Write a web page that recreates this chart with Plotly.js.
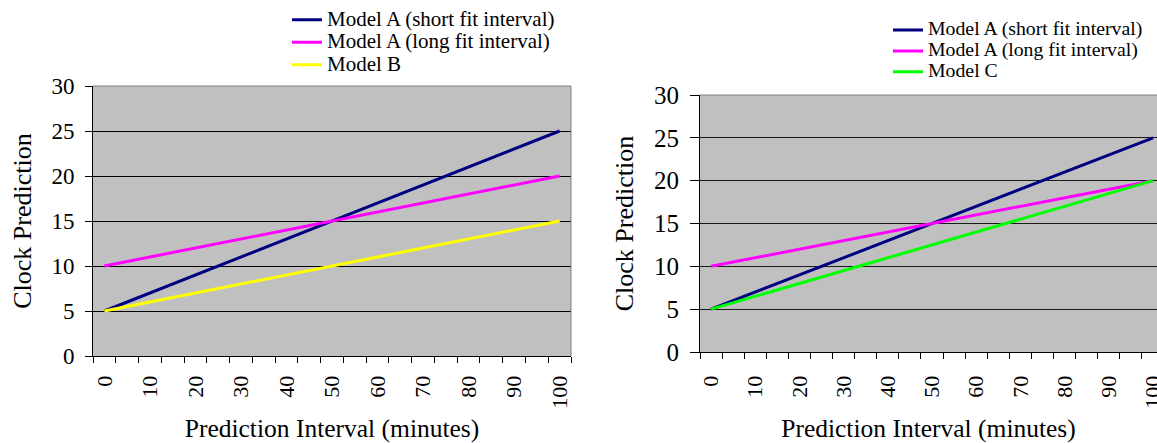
<!DOCTYPE html>
<html>
<head>
<meta charset="utf-8">
<script src="https://cdn.plot.ly/plotly-3.0.1.min.js"></script>
<style>
  html, body { margin: 0; padding: 0; overflow: hidden; background: #fff; }
  #chart { width: 1157px; height: 443px; }
</style>
</head>
<body>
<div id="chart"></div>
<script>
// Prediction interval categories (minutes)
const intervals = [0, 5, 10, 15, 20, 25, 30, 35, 40, 45, 50, 55, 60, 65, 70, 75, 80, 85, 90, 95, 100];
const tickLabels = ["0", "10", "20", "30", "40", "50", "60", "70", "80", "90", "100"];
const tickPositions = [0, 10, 20, 30, 40, 50, 60, 70, 80, 90, 100];

// Clock prediction values
const modelAShort = [5, 6, 7, 8, 9, 10, 11, 12, 13, 14, 15, 16, 17, 18, 19, 20, 21, 22, 23, 24, 25];
const modelALong = [10, 10.5, 11, 11.5, 12, 12.5, 13, 13.5, 14, 14.5, 15, 15.5, 16, 16.5, 17, 17.5, 18, 18.5, 19, 19.5, 20];
const modelB = [5, 5.5, 6, 6.5, 7, 7.5, 8, 8.5, 9, 9.5, 10, 10.5, 11, 11.5, 12, 12.5, 13, 13.5, 14, 14.5, 15];
const modelC = [5, 5.75, 6.5, 7.25, 8, 8.75, 9.5, 10.25, 11, 11.75, 12.5, 13.25, 14, 14.75, 15.5, 16.25, 17, 17.75, 18.5, 19.25, 20];

const names = {
  aShort: "Model A (short fit interval)",
  aLong: "Model A (long fit interval)",
  b: "Model B",
  c: "Model C"
};
const colors = { aShort: "#000080", aLong: "#FF00FF", b: "#FFFF00", c: "#00FF00" };

const W = 1157, H = 443;
const FONT = "'Liberation Serif', 'Times New Roman', serif";

// legend label rendered larger than the legend row pitch (tight Excel-style rows)
function legendName(name, px) {
  return "<span style='font-size:" + px + "px'>" + name + "</span>";
}

function line(y, name, color, xa, ya, lg, px) {
  return {
    type: "scatter", mode: "lines", x: intervals, y: y, name: legendName(name, px),
    xaxis: xa, yaxis: ya, legend: lg,
    line: { color: color, width: 3 }, hovertemplate: name + "<br>%{x}: %{y}<extra></extra>"
  };
}

const traces = [
  line(modelAShort, names.aShort, colors.aShort, "x", "y", "legend", 21),
  line(modelALong, names.aLong, colors.aLong, "x", "y", "legend", 21),
  line(modelB, names.b, colors.b, "x", "y", "legend", 21),
  line(modelAShort, names.aShort, colors.aShort, "x2", "y2", "legend2", 19.8),
  line(modelALong, names.aLong, colors.aLong, "x2", "y2", "legend2", 19.8),
  line(modelC, names.c, colors.c, "x2", "y2", "legend2", 19.8)
];

function xAxis(domain, range, anchor, labelGap, titleGap) {
  return {
    domain: domain, range: range, anchor: anchor,
    tickmode: "array", tickvals: tickPositions, ticktext: tickLabels,
    ticks: "", tickangle: -90, ticklabelstandoff: labelGap, ticklabeloverflow: "allow",
    tickfont: { family: FONT, size: 22, color: "#000" },
    minor: { ticks: "outside", ticklen: 6, tickwidth: 1, tickcolor: "#000", tickmode: "linear", tick0: -2.5, dtick: 5, showgrid: false },
    showgrid: false, zeroline: false,
    showline: true, linecolor: "#000", linewidth: 1,
    fixedrange: true,
    title: { text: "Prediction Interval (minutes)", font: { family: FONT, size: 25.5, color: "#000" }, standoff: titleGap }
  };
}
function yAxis(domain, anchor, grid, tlen, fsize, titleGap) {
  return {
    domain: domain, range: [0, 30], anchor: anchor,
    tickmode: "linear", tick0: 0, dtick: 5,
    ticks: "outside", ticklen: tlen, tickcolor: "#000", ticklabelstandoff: 6,
    tickfont: { family: FONT, size: fsize, color: "#000" },
    showgrid: true, gridcolor: grid, gridwidth: 1,
    zeroline: false, showline: true, linecolor: "#000", linewidth: 1,
    fixedrange: true,
    title: { text: "Clock Prediction", font: { family: FONT, size: 26, color: "#000" }, standoff: titleGap }
  };
}

const layout = {
  width: W, height: H,
  margin: { l: 0, r: 0, t: 0, b: 0, pad: 0, autoexpand: false },
  paper_bgcolor: "#fff", plot_bgcolor: "#C0C0C0",
  font: { family: FONT, color: "#000" },
  xaxis: xAxis([93 / W, 571 / W], [-2.5, 102.5], "y", 10, 14),
  yaxis: yAxis([(H - 356) / H, (H - 86) / H], "x", "#000", 7, 23, 12),
  xaxis2: xAxis([700 / W, 1], [-2.5, 100.9], "y2", 14, 14),
  yaxis2: yAxis([(H - 352) / H, (H - 95) / H], "x2", "#1a1a1a", 9, 25, 12),
  legend: {
    x: 287 / W, y: 1 - 3.5 / H, xanchor: "left", yanchor: "top",
    bgcolor: "rgba(0,0,0,0)", borderwidth: 0,
    font: { family: FONT, size: 15, color: "#000" },
    tracegroupgap: 0
  },
  legend2: {
    x: 888 / W, y: 1 - 14.5 / H, xanchor: "left", yanchor: "top",
    bgcolor: "rgba(0,0,0,0)", borderwidth: 0,
    font: { family: FONT, size: 13.8, color: "#000" },
    tracegroupgap: 0
  },
  showlegend: true,
  shapes: [
    { type: "line", xref: "x domain", yref: "y domain", x0: 0, x1: 1, y0: 1, y1: 1, line: { color: "#808080", width: 1 }, layer: "above" },
    { type: "line", xref: "x domain", yref: "y domain", x0: 1, x1: 1, y0: 0, y1: 1, line: { color: "#808080", width: 1 }, layer: "above" },
    { type: "line", xref: "x2 domain", yref: "y2 domain", x0: 0, x1: 1, y0: 1, y1: 1, line: { color: "#808080", width: 1 }, layer: "above" }
  ]
};

Plotly.newPlot("chart", traces, layout, { displayModeBar: false });
</script>
</body>
</html>
